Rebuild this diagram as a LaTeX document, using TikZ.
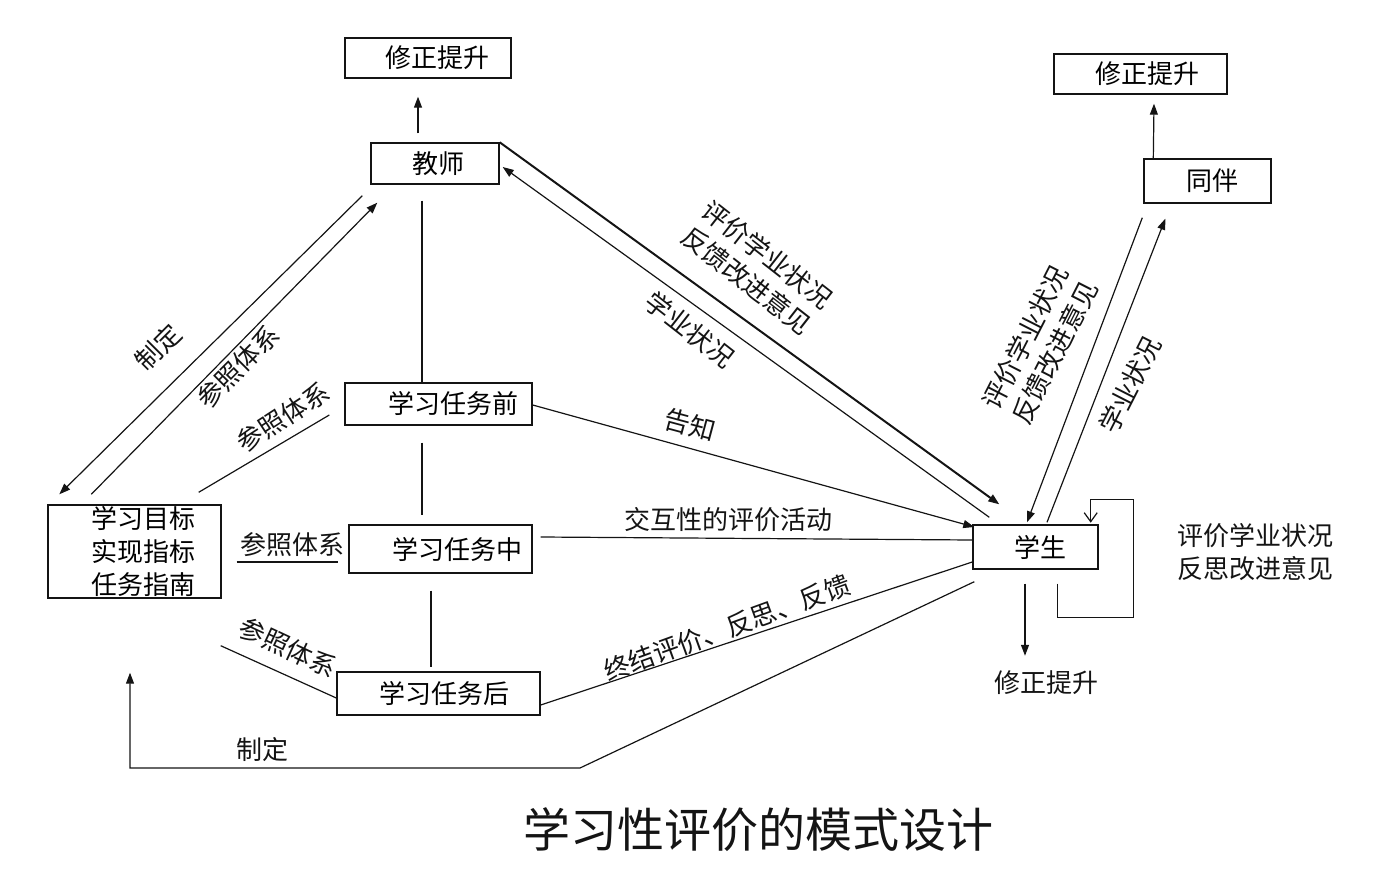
\documentclass[tikz,border=0pt]{standalone}
\usepackage{fontspec}
\setmainfont{Noto Sans CJK SC}
\usepackage{tikz}
\usetikzlibrary{arrows.meta, calc, positioning}
\definecolor{ink}{rgb}{0.08,0.08,0.08}
\tikzset{
  align=center,
  box/.style={draw=ink, line width=1.4pt, inner sep=0pt, font=\fontsize{26pt}{33pt}\selectfont},
  lbl/.style={inner sep=0pt, text=ink, font=\fontsize{26pt}{33pt}\selectfont},
  alin/.style={line width=1.2pt, ink},
  pto/.style={-{Triangle[length=11pt,width=8pt]}, line width=1.2pt, ink},
  boldpto/.style={pto, line width=2pt},
  barb/.style={-{Straight Barb[length=9pt,width=13pt]}, line width=1.2pt, ink}
}

\begin{document}
\begin{tikzpicture}[x=1pt, y=-1pt]
  \useasboundingbox (0,0) rectangle (1375,885);

  % boxes
  \node[box, minimum width=166pt, minimum height=40pt] (fixT) at (428,58) {\hspace*{18pt}修正提升};
  \node[box, minimum width=128pt, minimum height=41pt] (teacher) at (435,163.5) {\hspace*{6pt}教师};
  \node[box, minimum width=173pt, minimum height=40pt] (fixP) at (1140.5,74) {\hspace*{14pt}修正提升};
  \node[box, minimum width=127pt, minimum height=44pt] (peer) at (1207.5,181) {\hspace*{10pt}同伴};
  \node[box, minimum width=173pt, minimum height=93pt] (goal) at (134.5,551.5) {\hspace*{17pt}学习目标\\\hspace*{17pt}实现指标\\\hspace*{17pt}任务指南};
  \node[box, minimum width=187pt, minimum height=42pt] (before) at (438.5,404) {\hspace*{30pt}学习任务前};
  \node[box, minimum width=183pt, minimum height=48pt] (during) at (440.5,549) {\hspace*{34pt}学习任务中};
  \node[box, minimum width=203pt, minimum height=43pt] (after) at (438.5,693.5) {\hspace*{12pt}学习任务后};
  \node[box, minimum width=125pt, minimum height=44pt] (student) at (1035.5,547) {\hspace*{9pt}学生};
  \node[lbl] (fixS) at (1046,683) {修正提升};
  \node[lbl] (self) at (1255,552) {评价学业状况\\反思改进意见};

  % labels
  \node[lbl, rotate=45] (setA) at (158,347) {制定};
  \node[lbl, rotate=45] (refA) at (238,367) {参照体系};
  \node[lbl, rotate=33] (refB) at (283,417) {参照体系};
  \node[lbl] (refC) at (292,545) {参照体系};
  \node[lbl, rotate=-25] (refD) at (288,648) {参照体系};
  \node[lbl, rotate=-15] (tell) at (690,425) {告知};
  \node[lbl] (interact) at (728,520) {交互性的评价活动};
  \node[lbl, rotate=20] (final) at (727,628) {终结评价、反思、反馈};
  \node[lbl] (setB) at (262,750) {制定};
  \node[lbl, rotate=-38] (evalT) at (757,268) {评价学业状况\\反馈改进意见};
  \node[lbl, rotate=-38] (stateT) at (690,330) {学业状况};
  \node[lbl, rotate=63] (evalP) at (1040,345) {评价学业状况\\反馈改进意见};
  \node[lbl, rotate=63] (stateP) at (1130,385) {学业状况};

  % connectors
  \draw[pto] ($(teacher.north)+(-17,-9)$) -- ($(fixT.south)+(-10,18)$);
  \draw[alin] ($(teacher.south)+(-13,16)$) -- ($(before.north)+(-16.5,0)$);
  \draw[alin] ($(before.south)+(-16.5,17)$) -- ($(during.north)+(-18.5,-9)$);
  \draw[alin] ($(during.south)+(-9.5,17)$) -- ($(after.north)+(-7.5,-4)$);
  \draw[pto] ($(teacher.south west)+(-8,11)$) -- ($(goal.north west)+(12,-10)$);
  \draw[pto] ($(goal.north west)+(44,-10)$) -- ($(teacher.south west)+(7,18)$);
  \draw[alin] ($(before.west)+(-15,11)$) -- ($(goal.north east)+(-23,-12)$);
  \draw[alin] ($(goal.east)+(15,10.5)$) -- ($(during.west)+(-10,13)$);
  \draw[alin] ($(after.west)+(0,4.5)$) -- ($(goal.south east)+(-1,47)$);
  \draw[boldpto] (teacher.north east) -- ($(student.north west)+(27,-20)$);
  \draw[pto] ($(student.north west)+(17,-7)$) -- ($(teacher.east)+(3,3.5)$);
  \draw[pto] ($(before.east)+(0,1)$) -- ($(student.west)+(2,-20)$);
  \draw[alin] ($(during.east)+(8,-12)$) -- ($(student.west)+(0,-7)$);
  \draw[alin] ($(after.east)+(0,11.5)$) -- ($(student.west)+(0,15)$);
  \coordinate (turn) at (580,768);
  \draw[pto] ($(student.south west)+(2,12)$) -- (turn) -| ($(goal.south)+(-4.5,74)$);
  \draw[pto] ($(peer.south west)+(-1,14)$) -- ($(student.north)+(-8.5,-2)$);
  \draw[pto] ($(student.north)+(11.5,-2)$) -- ($(peer.south west)+(22,15)$);
  \draw[pto] ($(peer.north west)+(10,0)$) -- ($(fixP.south)+(13.5,9)$);
  \draw[barb] ($(student.south east)+(-41,14)$) -- ++(0,34) -- ++(76,0) -- ++(0,-118) -- ++(-43,0) -- ++(0,23);
  \draw[pto] ($(student.south)+(-10.5,14)$) -- ($(fixS.north)+(-21,-15)$);

  \node[text=ink, font=\fontsize{47pt}{50pt}\selectfont] (title) at (758,830) {学习性评价的模式设计};
\end{tikzpicture}
\end{document}
